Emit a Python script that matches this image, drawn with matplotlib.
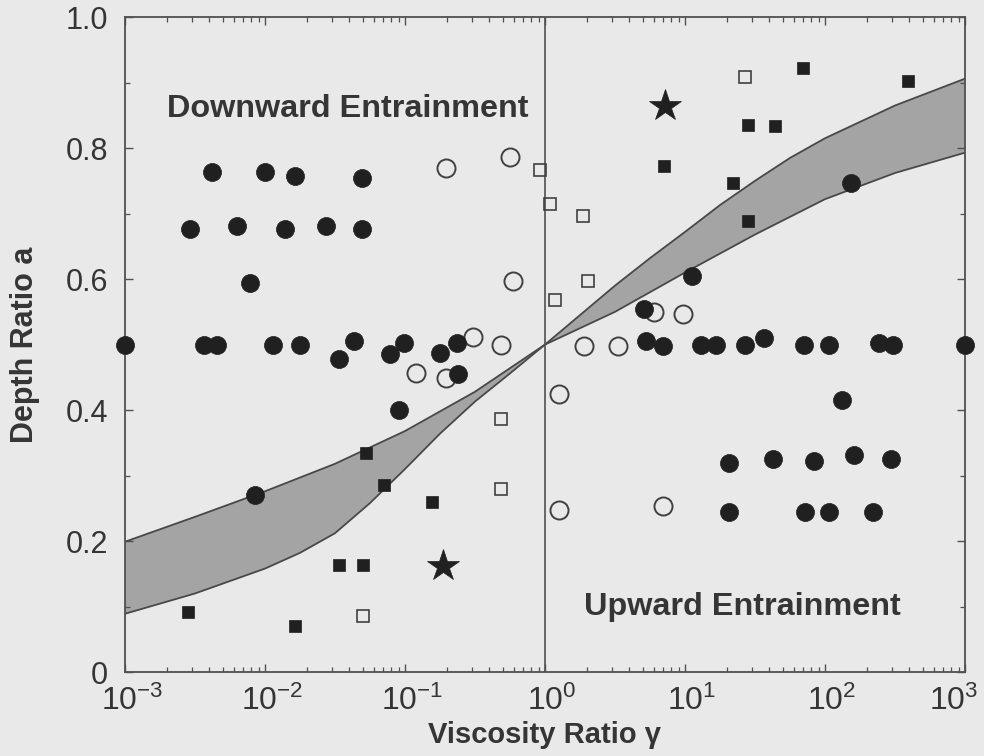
import matplotlib
matplotlib.use("Agg")
import matplotlib.pyplot as plt
import numpy as np
from matplotlib.ticker import LogLocator, FixedLocator, NullFormatter

plt.rcParams["font.family"] = ["Liberation Sans", "DejaVu Sans"]
plt.rcParams["mathtext.fontset"] = "custom"
plt.rcParams["mathtext.rm"] = "Liberation Sans"
plt.rcParams["mathtext.it"] = "Liberation Sans:italic"
plt.rcParams["mathtext.bf"] = "Liberation Sans:bold"

# ---- entrainment-regime band (boundaries in viscosity ratio / depth ratio) ----
band_upper_gamma = [1e-3, 10**-2.5, 1e-2, 10**-1.5, 1e-1, 10**-0.5, 1.0,
                    10**0.25, 10**0.5, 10**0.75, 10.0, 10**1.25, 10**1.5,
                    10**1.75, 100.0, 10**2.5, 1e3]
band_upper_a = [0.199, 0.237, 0.276, 0.318, 0.368, 0.428, 0.500,
                0.545, 0.590, 0.632, 0.672, 0.713, 0.750,
                0.785, 0.815, 0.865, 0.906]
band_lower_gamma = [1e-3, 10**-2.5, 1e-2, 10**-1.75, 10**-1.5, 10**-1.25, 1e-1,
                    10**-0.75, 10**-0.5, 10**-0.25, 1.0,
                    10**0.5, 10.0, 10**1.5, 100.0, 10**2.5, 1e3]
band_lower_a = [0.089, 0.120, 0.158, 0.182, 0.212, 0.258, 0.310,
                0.364, 0.413, 0.456, 0.500,
                0.550, 0.610, 0.668, 0.722, 0.762, 0.793]

# ---- experiments ----
filled_circle_gamma = [0.0042, 0.0100, 0.0163, 0.0497,
                       0.0029, 0.0063, 0.0138, 0.0275, 0.0497,
                       0.0078,
                       0.001, 0.00366, 0.00453, 0.0115, 0.0177, 0.0429, 0.0340,
                       0.099, 0.0787, 0.236, 0.179, 0.240, 0.091, 0.00845,
                       5.26, 6.95, 12.97, 16.6, 26.7, 36.5, 70.3, 106, 244, 308, 1000,
                       133,
                       20.5, 42.3, 82.8, 160, 298,
                       20.5, 71.4, 106, 222,
                       154, 11.2, 5.08]
filled_circle_a = [0.763, 0.763, 0.758, 0.755,
                   0.677, 0.681, 0.677, 0.681, 0.677,
                   0.594,
                   0.500, 0.500, 0.500, 0.500, 0.500, 0.505, 0.478,
                   0.502, 0.485, 0.502, 0.487, 0.455, 0.400, 0.271,
                   0.505, 0.498, 0.500, 0.500, 0.500, 0.510, 0.500, 0.500, 0.502, 0.500, 0.500,
                   0.415,
                   0.319, 0.326, 0.322, 0.332, 0.325,
                   0.245, 0.245, 0.245, 0.245,
                   0.746, 0.605, 0.554]

open_circle_gamma = [0.197, 0.564, 0.593, 0.308, 0.486, 0.120, 0.197,
                     1.90, 3.32, 1.26, 1.26, 6.95, 6.0, 9.64]
open_circle_a = [0.769, 0.787, 0.597, 0.511, 0.499, 0.456, 0.449,
                 0.498, 0.498, 0.424, 0.247, 0.253, 0.550, 0.547]

open_square_gamma = [0.923, 1.09, 1.87, 2.03, 1.18, 26.7, 0.486, 0.486, 0.0505]
open_square_a = [0.767, 0.715, 0.697, 0.597, 0.568, 0.908, 0.387, 0.279, 0.086]

filled_square_gamma = [69.2, 394, 28.1, 43.7, 7.06, 21.9, 28.1,
                       0.0531, 0.0713, 0.157, 0.0340, 0.0505, 0.00281, 0.0163]
filled_square_a = [0.923, 0.902, 0.836, 0.833, 0.772, 0.747, 0.688,
                   0.335, 0.286, 0.259, 0.164, 0.164, 0.092, 0.070]

star_gamma = [7.18, 0.188]
star_a = [0.865, 0.162]

x_ticks = [1e-3, 1e-2, 1e-1, 1e0, 1e1, 1e2, 1e3]
x_tick_labels = [r"$10^{-3}$", r"$10^{-2}$", r"$10^{-1}$", r"$10^{0}$",
                 r"$10^{1}$", r"$10^{2}$", r"$10^{3}$"]
y_ticks = [0, 0.2, 0.4, 0.6, 0.8, 1.0]
y_tick_labels = ["0", "0.2", "0.4", "0.6", "0.8", "1.0"]

paper = "#e9e9e9"
ink = "#202020"
frame = "#505050"
text_col = "#353535"

fig = plt.figure(figsize=(9.84, 7.56), dpi=100, facecolor=paper)
ax = fig.add_axes([0.127, 0.111, 0.8537, 0.8664], facecolor=paper)
ax.set_xscale("log")
ax.set_xlim(1e-3, 1e3)
ax.set_ylim(0, 1)

# shaded band between the two boundary curves
poly_x = list(band_upper_gamma) + list(band_lower_gamma[::-1])
poly_y = list(band_upper_a) + list(band_lower_a[::-1])
ax.fill(poly_x, poly_y, facecolor="#a4a4a4", edgecolor="none", zorder=1)
ax.plot(band_upper_gamma, band_upper_a, color="#484848", lw=1.3, zorder=2)
ax.plot(band_lower_gamma, band_lower_a, color="#484848", lw=1.3, zorder=2)

# divider at equal viscosity
ax.axvline(1.0, color=frame, lw=1.2, zorder=2)

ax.plot(filled_circle_gamma, filled_circle_a, "o", ms=13, mfc=ink, mec=ink,
        mew=0.5, ls="none", zorder=4, clip_on=False)
ax.plot(open_circle_gamma, open_circle_a, "o", ms=13, mfc="none", mec="#404040",
        mew=1.4, ls="none", zorder=3, clip_on=False)
ax.plot(filled_square_gamma, filled_square_a, "s", ms=8.5, mfc=ink, mec=ink,
        mew=0.5, ls="none", zorder=4)
ax.plot(open_square_gamma, open_square_a, "s", ms=8.5, mfc="none", mec="#404040",
        mew=1.2, ls="none", zorder=3)
ax.plot(star_gamma, star_a, "*", ms=24, mfc=ink, mec=ink, mew=0.5,
        ls="none", zorder=4)

ax.text(0.002, 0.859, "Downward Entrainment", fontsize=23.3, fontweight="bold",
        color=text_col, va="center", ha="left")
ax.text(1.9, 0.10, "Upward Entrainment", fontsize=23.3, fontweight="bold",
        color=text_col, va="center", ha="left")

# axes styling
for s in ax.spines.values():
    s.set_color(frame)
    s.set_linewidth(1.3)

ax.xaxis.set_major_locator(FixedLocator(x_ticks))
ax.xaxis.set_major_formatter(NullFormatter())
ax.xaxis.set_minor_locator(LogLocator(base=10, subs=np.arange(2, 10)))
ax.xaxis.set_minor_formatter(NullFormatter())
ax.set_yticks(y_ticks)
ax.set_yticklabels(y_tick_labels)
ax.yaxis.set_minor_locator(FixedLocator([0.1, 0.3, 0.5, 0.7, 0.9]))

ax.tick_params(which="both", direction="in", top=True, right=True, color=frame)
ax.tick_params(which="major", length=6, width=1.0)
ax.tick_params(which="minor", length=3.5, width=0.9)
ax.tick_params(axis="y", which="major", labelsize=22, labelcolor=text_col, pad=12)

# decade labels: the "10" sits over the tick, exponent hangs to the right
for i, (xv, lbl) in enumerate(zip(x_ticks, x_tick_labels)):
    dx = 5 if i < len(x_ticks) - 1 else -8
    ax.annotate(lbl, xy=(xv, 0), xycoords=("data", "axes fraction"),
                xytext=(dx, -10), textcoords="offset points",
                ha="center", va="top", fontsize=23, color=text_col,
                annotation_clip=False)

ax.set_xlabel("Viscosity Ratio γ", fontsize=21, fontweight="bold",
              color=text_col)
ax.xaxis.set_label_coords(0.5, -0.074)
ax.set_ylabel("Depth Ratio a", fontsize=22, fontweight="bold", color=text_col)
ax.yaxis.set_label_coords(-0.101, 0.5)

fig.savefig("out.png", dpi=100, facecolor=paper)
